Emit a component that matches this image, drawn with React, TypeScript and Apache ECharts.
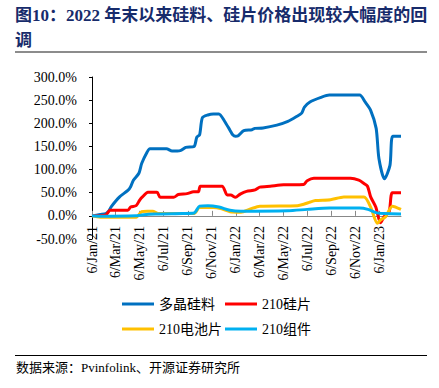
import React, { useEffect, useRef } from "react";
import * as echarts from "echarts";

const titleLine1 = "图10：2022 年末以来硅料、硅片价格出现较大幅度的回";
const titleLine2 = "调";
const sourceText = "数据来源：Pvinfolink、开源证券研究所";

const seriesNames = ["多晶硅料", "210硅片", "210电池片", "210组件"];
const seriesColors = ["#0070C0", "#FF0000", "#FFC000", "#00B0F0"];

const polyDates = [
  "2021-01-06", "2021-01-27", "2021-02-10", "2021-02-17", "2021-02-24", "2021-03-17", "2021-04-07",
  "2021-04-14", "2021-04-21", "2021-05-05", "2021-05-12", "2021-05-26", "2021-06-02", "2021-07-14",
  "2021-07-28", "2021-08-18", "2021-09-01", "2021-09-22", "2021-09-29", "2021-10-06", "2021-10-13",
  "2021-10-27", "2021-11-10", "2021-11-24", "2021-12-08", "2021-12-22", "2021-12-29", "2022-01-05",
  "2022-01-12", "2022-01-26", "2022-02-16", "2022-02-23", "2022-03-16", "2022-04-20", "2022-05-18",
  "2022-06-08", "2022-06-22", "2022-06-29", "2022-07-13", "2022-08-10", "2022-08-31", "2022-11-16",
  "2022-11-30", "2022-12-14", "2022-12-28", "2023-01-04", "2023-01-18", "2023-02-01", "2023-02-08",
  "2023-03-01",
];
const polyValues = [
  0, 3, 5, 10, 20, 41, 55,
  63, 77, 92, 113, 138, 145, 145,
  140, 141, 148, 150, 170, 175, 212,
  218, 220, 220, 205, 185, 175, 172,
  173, 184, 186, 189, 190, 196, 204,
  214, 222, 235, 246, 256, 261, 261,
  246, 228, 189, 124, 80, 109, 172,
  172,
];

const waferDates = [
  "2021-01-06", "2021-02-10", "2021-02-21", "2021-04-07", "2021-04-14", "2021-04-28", "2021-05-07",
  "2021-05-14", "2021-05-28", "2021-06-20", "2021-06-28", "2021-08-01", "2021-08-13", "2021-09-04",
  "2021-09-21", "2021-10-03", "2021-10-08", "2021-12-02", "2021-12-15", "2021-12-24", "2022-01-05",
  "2022-01-17", "2022-02-02", "2022-02-24", "2022-03-08", "2022-04-03", "2022-05-07", "2022-06-27",
  "2022-07-06", "2022-07-23", "2022-10-24", "2022-11-14", "2022-11-27", "2022-12-06", "2022-12-14",
  "2022-12-27", "2023-01-08", "2023-01-17", "2023-01-30", "2023-02-07", "2023-03-01",
];
const waferValues = [
  0, 2, 12, 12, 19, 22, 34,
  41, 51, 51, 40, 40, 46, 48,
  52, 52, 64, 64, 45, 45, 40,
  47, 53, 56, 62, 64, 67, 68,
  76, 81, 81, 77, 70, 64, 41,
  19, -15, -2, 9, 50, 50,
];

const cellDates = [
  "2021-01-06", "2021-01-27", "2021-04-28", "2021-05-12", "2021-05-26", "2021-06-09", "2021-06-23",
  "2021-09-22", "2021-10-06", "2021-11-10", "2021-12-01", "2021-12-22", "2022-01-19", "2022-02-12",
  "2022-03-08", "2022-06-11", "2022-06-27", "2022-07-14", "2022-07-27", "2022-09-03", "2022-10-07",
  "2022-11-27", "2022-12-14", "2022-12-31", "2023-01-08", "2023-01-21", "2023-02-07", "2023-03-01",
];
const cellValues = [
  0, -3, -3, 9, 10, 10, 5,
  5, 18, 18, 15, 9, 8, 15,
  21, 22, 25, 30, 33, 35, 41,
  41, 19, -16, -9, -2, 21, 14,
];

const moduleDates = [
  "2021-01-06", "2021-01-27", "2021-04-28", "2021-05-12", "2021-06-16", "2021-08-25", "2021-09-22",
  "2021-10-06", "2021-10-27", "2021-11-24", "2021-12-22", "2022-01-19", "2022-05-18", "2022-07-06",
  "2022-08-31", "2022-11-16", "2022-12-07", "2022-12-30", "2023-01-18", "2023-03-01",
];
const moduleValues = [
  0, -1, 0, 2, 4, 5, 6,
  21, 22, 19, 12, 10, 11, 14,
  17, 17, 14, 6.5, 5, 4,
];

const tickDates = [
  "2021-01-06", "2021-03-06", "2021-05-06", "2021-07-06", "2021-09-06", "2021-11-06", "2022-01-06",
  "2022-03-06", "2022-05-06", "2022-07-06", "2022-09-06", "2022-11-06", "2023-01-06",
];
const xMinDate = "2021-01-06";
const xMaxDate = "2023-03-01";

const yMin = -50;
const yMax = 300;
const yStep = 50;

const monthNames = ["Jan", "Feb", "Mar", "Apr", "May", "Jun", "Jul", "Aug", "Sep", "Oct", "Nov", "Dec"];

const DAY = 86400000;
const toTs = (d: string) => {
  const [y, m, day] = d.split("-").map(Number);
  return Date.UTC(y, m - 1, day);
};
const BASE = toTs(xMinDate);
const toDay = (d: string) => Math.round((toTs(d) - BASE) / DAY);
const fmtDay = (n: number) => {
  const d = new Date(BASE + Math.round(n) * DAY);
  return `${d.getUTCDate()}/${monthNames[d.getUTCMonth()]}/${String(d.getUTCFullYear()).slice(2)}`;
};

const SERIF = '"Liberation Serif", "Times New Roman", "Noto Sans CJK SC", serif';

export default function App() {
  const ref = useRef<HTMLDivElement>(null);
  useEffect(() => {
    if (!ref.current) return;
    const chart = echarts.init(ref.current, undefined, { renderer: "svg" });
    const dateSets = [polyDates, waferDates, cellDates, moduleDates];
    const valueSets = [polyValues, waferValues, cellValues, moduleValues];
    const tickDays = tickDates.map(toDay);
    const legendPos = [
      { left: 122, top: 297 },
      { left: 225, top: 297 },
      { left: 122, top: 322 },
      { left: 225, top: 322 },
    ];
    chart.setOption({
      animation: false,
      textStyle: { fontFamily: SERIF },
      grid: { left: 92, right: 38, top: 77, bottom: 149, containLabel: false, outerBoundsMode: "none" },
      legend: seriesNames.map((n, i) => ({
        data: [n],
        left: legendPos[i].left,
        top: legendPos[i].top,
        padding: 0,
        icon: "rect",
        itemWidth: 32,
        itemHeight: 3,
        itemGap: 5,
        selectedMode: false,
        textStyle: { fontSize: 14, color: "#000", fontFamily: SERIF },
      })),
      xAxis: {
        type: "value",
        min: 0,
        max: toDay(xMaxDate),
        axisLine: { onZero: true, lineStyle: { color: "#888", width: 1 } },
        axisTick: { show: true, inside: true, length: 5, customValues: tickDays, lineStyle: { color: "#888" } },
        axisLabel: {
          customValues: tickDays,
          rotate: 90,
          margin: -13,
          fontSize: 14,
          color: "#000",
          fontFamily: SERIF,
          formatter: (v: number) => fmtDay(v),
        },
        splitLine: { show: false },
      },
      yAxis: {
        type: "value",
        min: yMin,
        max: yMax,
        interval: yStep,
        axisLine: { show: true, lineStyle: { color: "#000", width: 1 } },
        axisTick: { show: true, inside: false, length: 3, lineStyle: { color: "#000" } },
        axisLabel: {
          fontSize: 14,
          color: "#000",
          margin: 15,
          fontFamily: SERIF,
          formatter: (v: number) => v.toFixed(1) + "%",
        },
        splitLine: { show: false },
      },
      series: seriesNames.map((n, i) => ({
        name: n,
        type: "line",
        showSymbol: false,
        symbol: "none",
        smooth: 0.25,
        lineStyle: { color: seriesColors[i], width: 3 },
        itemStyle: { color: seriesColors[i] },
        data: dateSets[i].map((d, k) => [toDay(d), valueSets[i][k]]),
      })),
      graphic: [
        {
          type: "text",
          left: 15,
          top: 7,
          style: { text: titleLine1, fontSize: 17, fontWeight: "bold", fill: "#172B6B", fontFamily: SERIF },
        },
        {
          type: "text",
          left: 15,
          top: 32,
          style: { text: titleLine2, fontSize: 17, fontWeight: "bold", fill: "#172B6B", fontFamily: SERIF },
        },
        {
          type: "line",
          shape: { x1: 15, y1: 52, x2: 427, y2: 52 },
          style: { stroke: "#8C8C8C", lineWidth: 2 },
        },
        {
          type: "line",
          shape: { x1: 15, y1: 355.5, x2: 427, y2: 355.5 },
          style: { stroke: "#000", lineWidth: 1 },
        },
        {
          type: "text",
          left: 16,
          top: 361,
          style: { text: sourceText, fontSize: 13, fill: "#000", fontFamily: SERIF },
        },
      ],
    });
    return () => chart.dispose();
  }, []);
  return (
    <div
      ref={ref}
      style={{ position: "fixed", left: 0, top: 0, width: 439, height: 388, background: "#fff" }}
    />
  );
}
